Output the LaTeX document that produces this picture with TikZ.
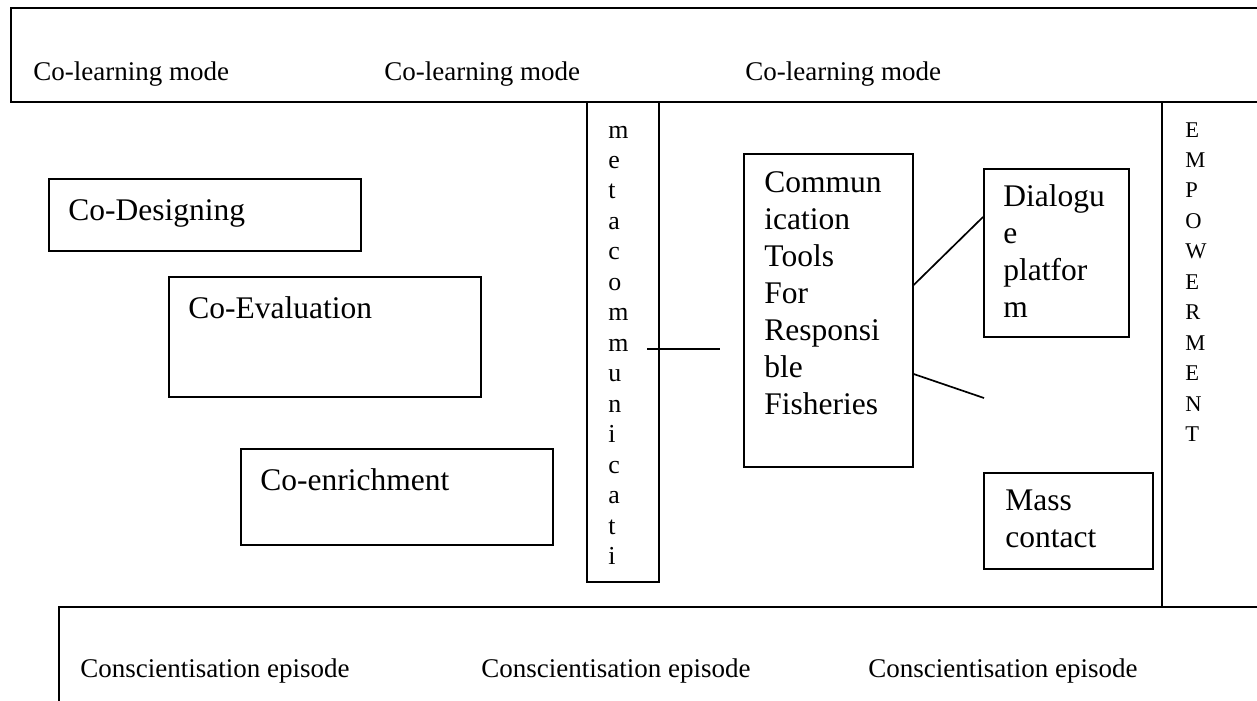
\documentclass[tikz,border=0pt]{standalone}
\usepackage{fontspec}
\setmainfont{Liberation Serif}
\tikzset{
box/.style={draw, line width=.75pt, inner sep=0pt, anchor=north west},
band/.style={draw, line width=1pt, inner sep=0pt, anchor=north west},
smalltxt/.style={font=\fontsize{12}{13.8}\selectfont, inner sep=0pt, anchor=base west},
bigtxt/.style={font=\fontsize{14}{16.5}\selectfont, inner sep=0pt, anchor=base west, text width=4cm, align=left},
lettertxt/.style={font=\fontsize{11.5}{13.55}\selectfont, inner sep=0pt, anchor=base west, text width=1cm, align=left},
captxt/.style={font=\fontsize{10}{13.55}\selectfont, inner sep=0pt, anchor=base west, text width=1cm, align=left},
link/.style={line width=.75pt},
}

\begin{document}
\begin{tikzpicture}[x=0.4444pt, y=-0.4444pt]

    \useasboundingbox (0,0) rectangle (1257,700);
    \clip (0,0) rectangle (1257,700);

    \node[band, minimum width=578pt, minimum height=41.8pt] (modes) at (10,7) {};
    \node[band, minimum width=556pt, minimum height=67pt] (episodes) at (58,606) {};

    \node[smalltxt] (mode1) at (33,80) {Co-learning mode};
    \node[smalltxt] (mode2) at (384,80) {Co-learning mode};
    \node[smalltxt] (mode3) at (745,80) {Co-learning mode};

    \node[smalltxt] (episode1) at (80,677) {Conscientisation episode};
    \node[smalltxt] (episode2) at (481,677) {Conscientisation episode};
    \node[smalltxt] (episode3) at (868,677) {Conscientisation episode};

    \node[box, minimum width=138.7pt, minimum height=32pt] (design) at (48,178) {};
    \node[box, minimum width=138.7pt, minimum height=53.3pt] (evaluation) at (168,276) {};
    \node[box, minimum width=138.7pt, minimum height=42.7pt] (enrich) at (240,448) {};
    \node[bigtxt] (designtxt) at (68,220) {Co-Designing};
    \node[bigtxt] (evaluationtxt) at (188,318) {Co-Evaluation};
    \node[bigtxt] (enrichtxt) at (260,490) {Co-enrichment};

    \node[box, minimum width=32pt, minimum height=213.3pt] (meta) at (586,101) {};
    \node[lettertxt] (metatxt) at (608,138) {m\\e\\t\\a\\c\\o\\m\\m\\u\\n\\i\\c\\a\\t\\i};

    \node[box, minimum width=75.1pt, minimum height=139.1pt] (tools) at (743,153) {};
    \node[bigtxt] (toolstxt) at (764,192) {Commun\\ication\\Tools\\For\\Responsi\\ble\\Fisheries};

    \node[box, minimum width=64.4pt, minimum height=74.7pt] (dialogue) at (983,168) {};
    \node[bigtxt] (dialoguetxt) at (1003,206) {Dialogu\\e\\platfor\\m};

    \node[box, minimum width=75.1pt, minimum height=42.7pt] (mass) at (983,472) {};
    \node[bigtxt] (masstxt) at (1005,510) {Mass\\contact};

    \coordinate (empx) at (1162,0);
    \draw[link] (modes.south -| empx) -- (episodes.north -| empx);
    \node[captxt] (emptxt) at (1185,137) {E\\M\\P\\O\\W\\E\\R\\M\\E\\N\\T};

    \coordinate (metastart) at (647,349);
    \coordinate (metaend) at (720,349);
    \coordinate (massend) at (984,398);
    \draw[link] (metastart) -- (metaend);
    \draw[link] ([shift={(0,132)}]tools.north east) -- ([shift={(0,49)}]dialogue.north west);
    \draw[link] ([shift={(0,221)}]tools.north east) -- (massend);

\end{tikzpicture}
\end{document}
